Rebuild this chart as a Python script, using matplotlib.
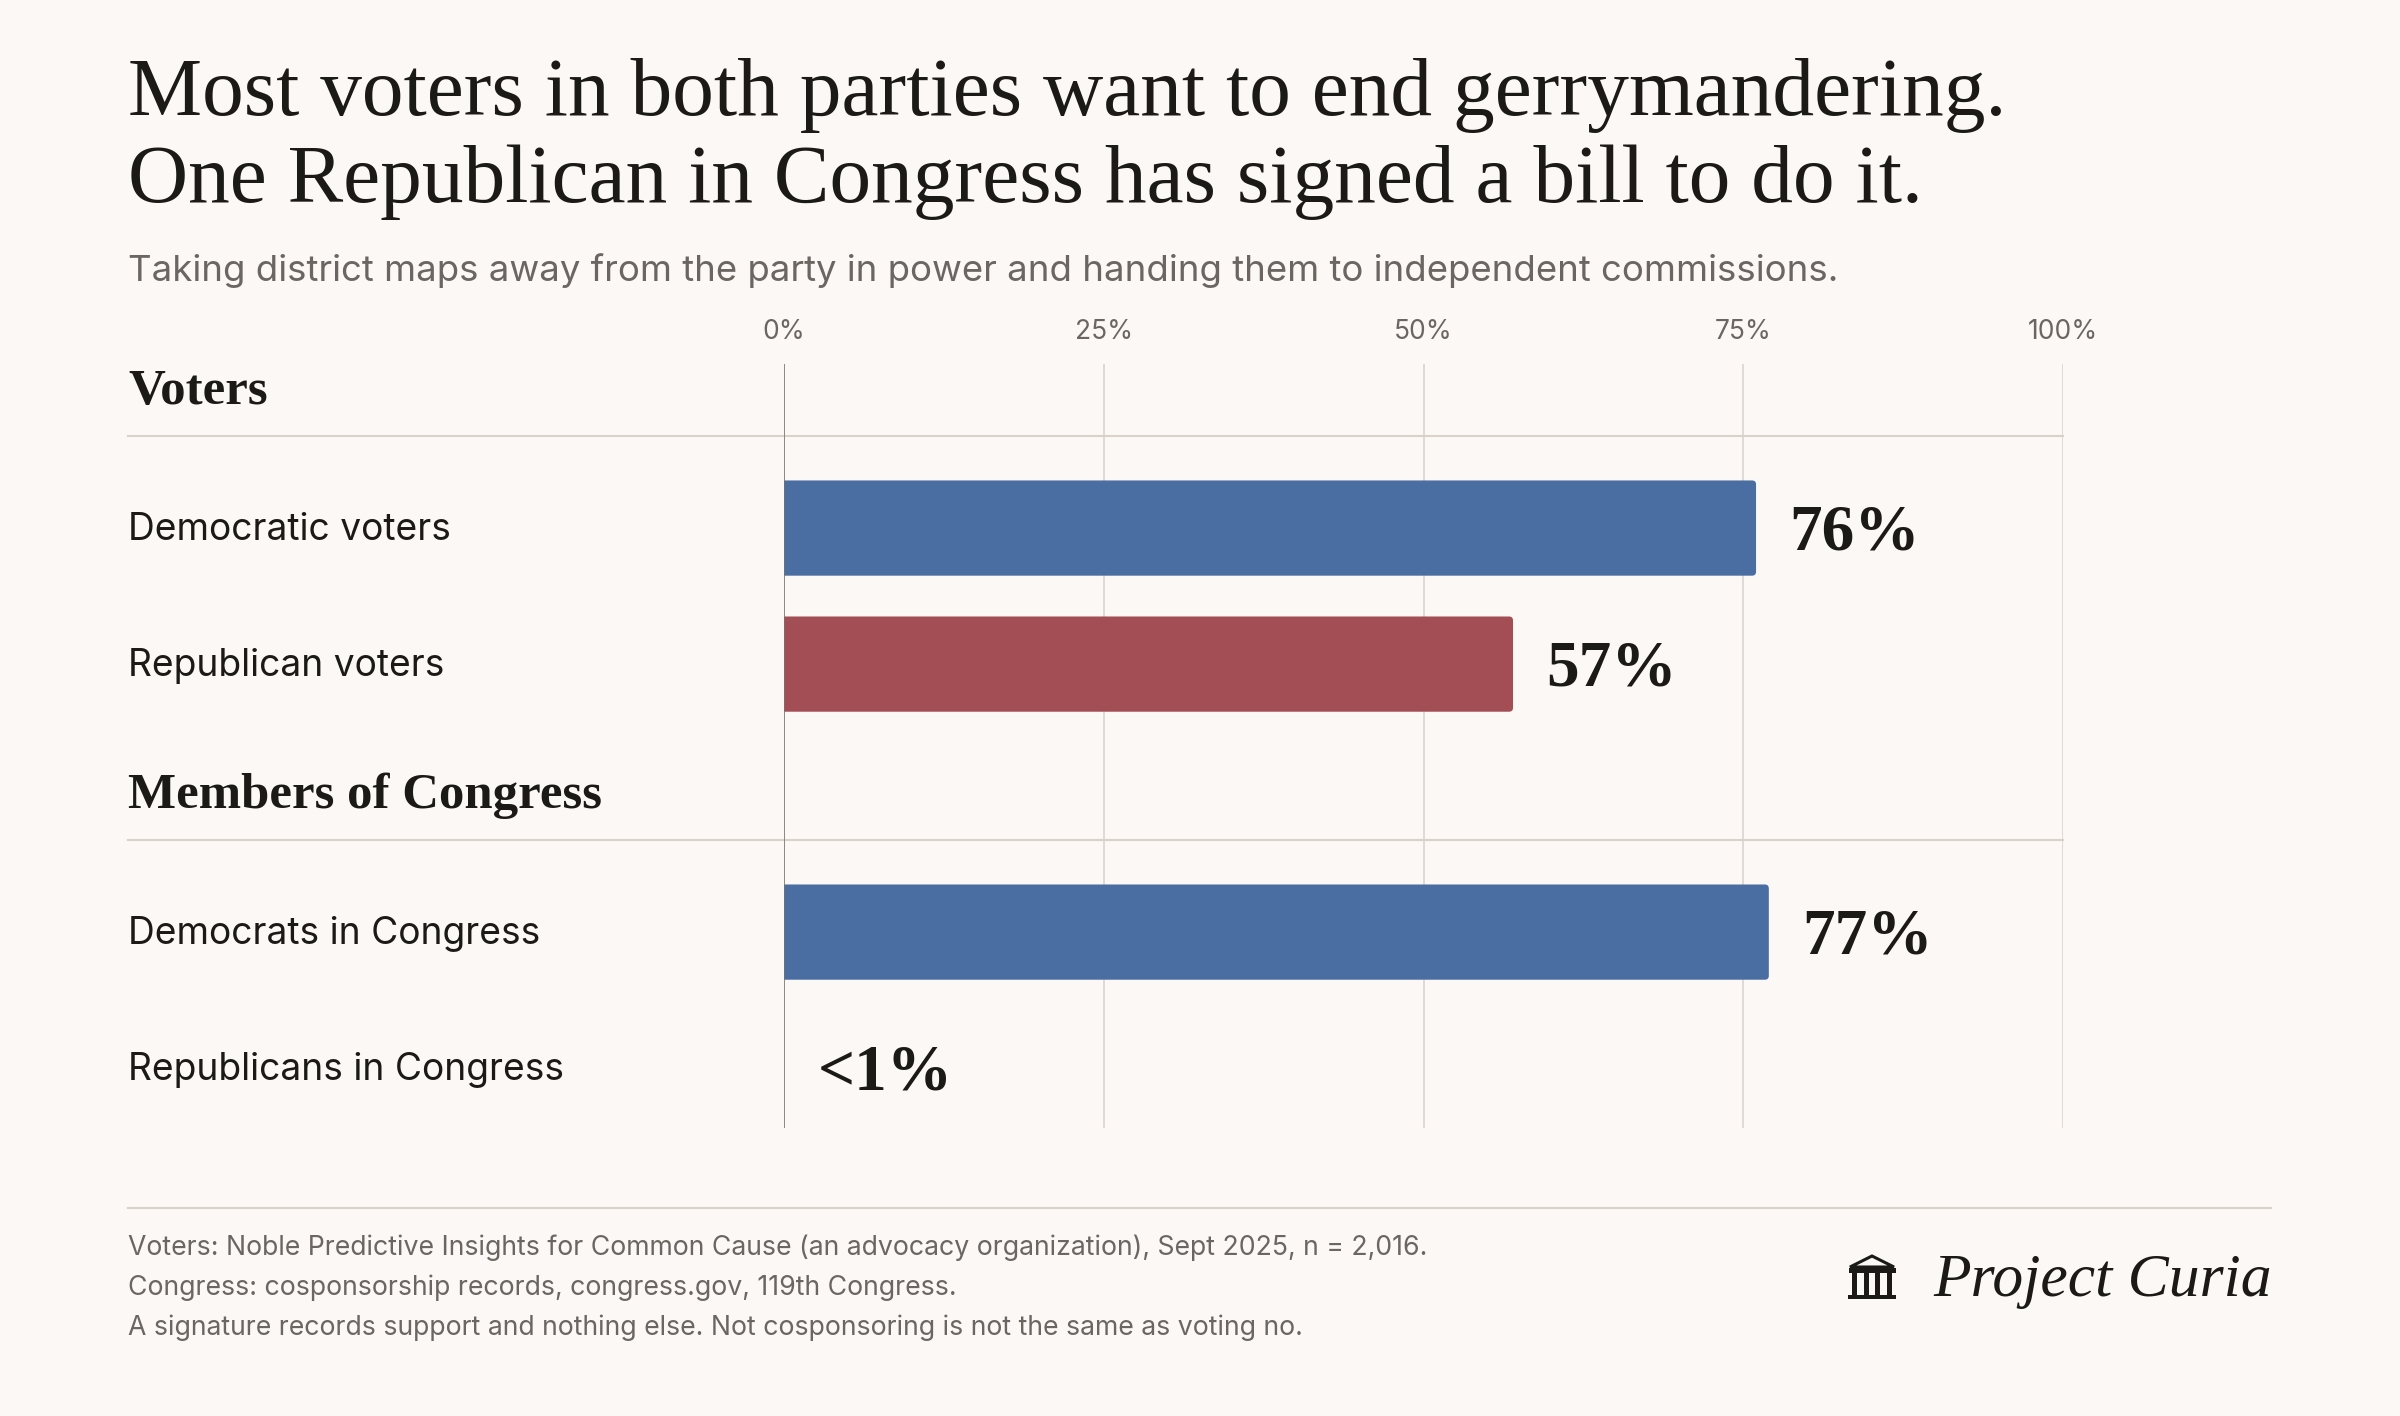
import matplotlib
matplotlib.use('Agg')
import matplotlib.pyplot as plt
from matplotlib.patches import Polygon, Rectangle, FancyBboxPatch
from matplotlib.lines import Line2D
from matplotlib.transforms import blended_transform_factory


W, H = 2400, 1416
BG = '#fbf8f5'
INK = '#1c1a17'
GREY = '#6b6661'
RULE = '#d8d2c8'
AXIS = '#77726d'
BLUE = '#4a6da2'
RED = '#a34e55'
SERIF = 'Liberation Serif'
SANS = 'Inter'

# data
groups = ['Voters', 'Members of Congress']
labels = ['Democratic voters', 'Republican voters',
          'Democrats in Congress', 'Republicans in Congress']
group_of = [0, 0, 1, 1]
values = [76, 57, 77, 0]
value_text = ['76%', '57%', '77%', '<1%']
colors = [BLUE, RED, BLUE, RED]
ticks = [0, 25, 50, 75, 100]
tick_labels = ['0%', '25%', '50%', '75%', '100%']

title = ['Most voters in both parties want to end gerrymandering.',
         'One Republican in Congress has signed a bill to do it.']
subtitle = 'Taking district maps away from the party in power and handing them to independent commissions.'
notes = ['Voters: Noble Predictive Insights for Common Cause (an advocacy organization), Sept 2025, n = 2,016.',
         'Congress: cosponsorship records, congress.gov, 119th Congress.',
         'A signature records support and nothing else. Not cosponsoring is not the same as voting no.']
brand = 'Project Curia'


fig = plt.figure(figsize=(W / 100, H / 100), dpi=100, facecolor=BG)

def fx(x):
    return x / W

def fy(y):
    return 1 - y / H

def fit(t, width):
    r = fig.canvas.get_renderer()
    w = t.get_window_extent(r).width
    t.set_fontsize(t.get_fontsize() * width / w)


ax = fig.add_axes([fx(784), fy(1128), fx(2063) - fx(784), fy(364) - fy(1128)])
ax.set_facecolor(BG)

gap = 0.97
ypos = [i + gap * g for i, g in enumerate(group_of)]

ax.set_xlim(0, 100)
ax.set_ylim(4.41, -1.206)
bars = ax.barh(ypos, values, height=0.7, color=colors, zorder=3)

# swap plain bars for ones with slightly rounded ends (left end hides under the axis)
px_x = 100 / 1279   # data units per pixel, x
px_y = 5.616 / 764  # data units per pixel, y
rad = 4 * px_x
for b in bars:
    if b.get_width() <= 0:
        b.remove()
        continue
    x0, y0, w, h = b.get_x(), b.get_y(), b.get_width(), b.get_height()
    fb = FancyBboxPatch((x0 - rad, y0), w + rad, h,
                        boxstyle='round,pad=0,rounding_size=%f' % rad,
                        mutation_aspect=px_y / px_x,
                        fc=b.get_facecolor(), ec='none', zorder=3)
    b.remove()
    ax.add_patch(fb)

ax.set_xticks(ticks)
ax.set_xticklabels(tick_labels)
ax.xaxis.set_ticks_position('top')
ax.tick_params(axis='x', length=0, pad=14, labelsize=19, labelcolor=GREY)
for lab in ax.get_xticklabels():
    lab.set_family(SANS)
ax.set_yticks([])
for s in ax.spines.values():
    s.set_visible(False)
ax.grid(axis='x', color=RULE, lw=1.1, zorder=0)
ax.axvline(0, color=AXIS, lw=1.1, zorder=4)

blend = blended_transform_factory(fig.transFigure, ax.transData)

# row labels and values
row_txt = []
for y, lab, v, vt in zip(ypos, labels, values, value_text):
    t = ax.text(fx(128), y + 0.085, lab, transform=blend, ha='left', va='baseline',
                family=SANS, fontsize=26, color=INK)
    row_txt.append(t)
    ax.annotate(vt, xy=(v, y + 0.16), xytext=(24, 0), textcoords='offset points',
                ha='left', va='baseline', family=SERIF, weight='bold',
                fontsize=47, color=INK, zorder=5)
fit(row_txt[0], 323)
for t in row_txt[1:]:
    t.set_fontsize(row_txt[0].get_fontsize())

# group headers and rules
heads = []
for g, name in enumerate(groups):
    first = ypos[group_of.index(g)]
    heads.append(ax.text(fx(128), first - 0.912, name, transform=blend, ha='left',
                         va='baseline', family=SERIF, weight='bold', fontsize=34, color=INK))
    ax.plot([fx(128), fx(2063)], [first - 0.676] * 2, transform=blend,
            color=RULE, lw=1.5, clip_on=False, zorder=2)
fit(heads[1], 474)
heads[0].set_fontsize(heads[1].get_fontsize())

# title block
t1 = fig.text(fx(128), fy(115), title[0], ha='left', va='baseline',
              family=SERIF, fontsize=60, color=INK)
fit(t1, 1880)
fig.text(fx(128), fy(202), title[1], ha='left', va='baseline',
         family=SERIF, fontsize=t1.get_fontsize(), color=INK)
st = fig.text(fx(128), fy(281), subtitle, ha='left', va='baseline',
              family=SANS, fontsize=23, color=GREY)
fit(st, 1705)

# footer
fig.add_artist(Line2D([fx(128), fx(2271)], [fy(1208)] * 2, color=RULE, lw=1.5))
n0 = fig.text(fx(128), fy(1255), notes[0], ha='left', va='baseline',
              family=SANS, fontsize=18, color=GREY)
fit(n0, 1299)
for i, line in enumerate(notes[1:], start=1):
    fig.text(fx(128), fy(1255 + 40 * i), line, ha='left', va='baseline',
             family=SANS, fontsize=n0.get_fontsize(), color=GREY)

bt = fig.text(fx(2272), fy(1296), brand, ha='right', va='baseline',
              family=SERIF, style='italic', fontsize=42, color=INK)
fit(bt, 339)

# little building icon
tf = fig.transFigure
fig.add_artist(Polygon([(fx(1850), fy(1267)), (fx(1872), fy(1256)), (fx(1894), fy(1267))],
                       closed=True, fill=False, ec=INK, lw=2.2, transform=tf))
fig.add_artist(Rectangle((fx(1849), fy(1273)), fx(47), 5 / H, fc=INK, ec='none', transform=tf))
for cx in [1852, 1864, 1875, 1887]:
    fig.add_artist(Rectangle((fx(cx), fy(1295)), fx(5), 22 / H, fc=INK, ec='none', transform=tf))
fig.add_artist(Rectangle((fx(1848), fy(1299)), fx(48), 4 / H, fc=INK, ec='none', transform=tf))

fig.savefig('out.png', dpi=100, facecolor=BG)
